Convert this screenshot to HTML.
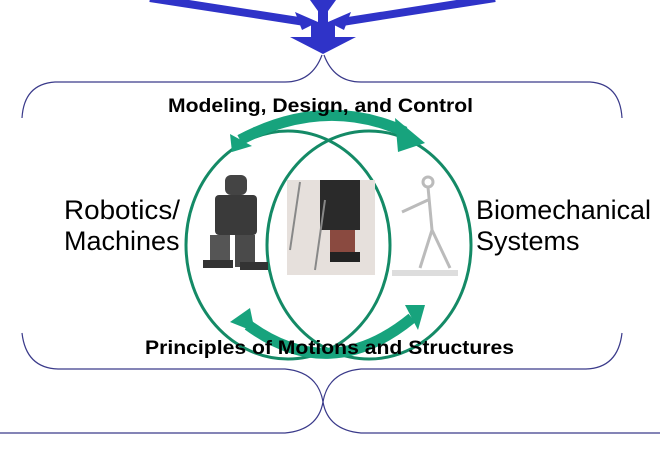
<!DOCTYPE html>
<html><head><meta charset="utf-8"><style>
body{margin:0;background:#fff;width:660px;height:465px;overflow:hidden}
svg{display:block}
text{font-family:"Liberation Sans",Arial,sans-serif}
</style></head><body>
<svg width="660" height="465" viewBox="0 0 660 465">
<g fill="#2f33c8" stroke="#2f33c8">
<line x1="150" y1="-2" x2="305" y2="22" stroke-width="8"/>
<line x1="495" y1="-2" x2="342" y2="22" stroke-width="8"/>
<line x1="323" y1="0" x2="323" y2="38" stroke-width="10"/>
<polygon points="310,0 336,0 323,18" stroke="none"/>
<polygon points="295,12 318,22 302,30" stroke="none"/>
<polygon points="351,12 328,22 344,30" stroke="none"/>
<rect x="311" y="22" width="24" height="18" stroke="none"/>
<polygon points="290,37 356,37 323,54" stroke="none"/>
</g>
<g fill="none" stroke="#3a3a8a" stroke-width="1.2">
<path d="M322,55 Q312,82 285,82 L55,82 Q24,84 22,118"/>
<path d="M324,55 Q334,82 361,82 L590,82 Q620,84 622,118"/>
<path d="M22,333 Q26,368 58,369 L285,369 Q318,372 323,402 Q318,430 285,433 L0,433"/>
<path d="M622,333 Q618,368 586,369 L361,369 Q328,372 323,402 Q328,430 361,433 L660,433"/>
</g>
<g fill="none" stroke="#148a66" stroke-width="3">
<ellipse cx="288" cy="245" rx="102" ry="114"/>
<ellipse cx="369" cy="245" rx="102" ry="114"/>
</g>
<g fill="none" stroke="#17a37d" stroke-width="11">
<path d="M240,140 Q325,95 405,132"/>
<path d="M412,318 Q330,385 248,325"/>
</g>
<g fill="#17a37d">
<polygon points="395,118 425,143 398,152"/>
<polygon points="230,134 232,152 252,146"/>
<polygon points="230,322 250,308 255,332"/>
<polygon points="405,305 425,305 418,330"/>
</g>
<g>
<rect x="225" y="175" width="22" height="20" rx="6" fill="#444"/>
<rect x="215" y="195" width="42" height="40" rx="4" fill="#3a3a3a"/>
<rect x="210" y="235" width="20" height="32" fill="#555"/>
<rect x="235" y="235" width="20" height="32" fill="#4a4a4a"/>
<rect x="203" y="260" width="30" height="8" fill="#333"/>
<rect x="240" y="262" width="28" height="8" fill="#333"/>
<rect x="287" y="180" width="88" height="95" fill="#e6e0dc"/>
<rect x="320" y="180" width="40" height="50" fill="#2a2a2a"/>
<rect x="330" y="230" width="25" height="25" fill="#8a4a40"/>
<rect x="330" y="252" width="30" height="10" fill="#222"/>
<line x1="300" y1="182" x2="290" y2="250" stroke="#888" stroke-width="2"/>
<line x1="325" y1="200" x2="315" y2="270" stroke="#888" stroke-width="2"/>
<rect x="392" y="270" width="66" height="6" fill="#ddd"/>
<g stroke="#bbb" stroke-width="3" fill="none">
<circle cx="428" cy="182" r="5"/>
<path d="M428,187 L432,230 L420,268 M432,230 L450,268 M428,200 L402,212"/>
</g>
</g>
<text x="168" y="112" font-size="19" font-weight="bold" fill="#000" textLength="305" lengthAdjust="spacingAndGlyphs">Modeling, Design, and Control</text>
<text x="145" y="354" font-size="19" font-weight="bold" fill="#000" textLength="369" lengthAdjust="spacingAndGlyphs">Principles of Motions and Structures</text>
<text x="64" y="219" font-size="27" fill="#000" textLength="116" lengthAdjust="spacingAndGlyphs">Robotics/</text>
<text x="64" y="250" font-size="27" fill="#000">Machines</text>
<text x="476" y="219" font-size="27" fill="#000" textLength="175" lengthAdjust="spacingAndGlyphs">Biomechanical</text>
<text x="476" y="250" font-size="27" fill="#000">Systems</text>
</svg>
</body></html>
